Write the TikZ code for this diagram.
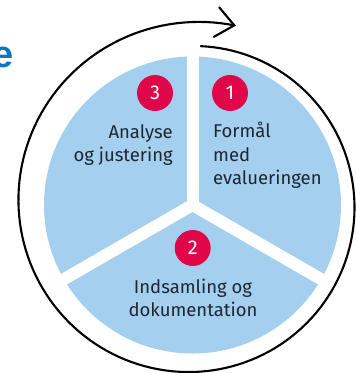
\documentclass[tikz,border=0pt]{standalone}
\usepackage{fontspec}
\setmainfont{Fira Sans}
\newfontfamily\titlefont{Liberation Sans}
\usetikzlibrary{arrows.meta}
\definecolor{pieblue}{HTML}{A5CFEE}
\definecolor{numred}{HTML}{E0064A}
\definecolor{txt}{HTML}{1C2733}
\definecolor{titleblue}{HTML}{0A75C2}
\tikzset{
  numc/.style={circle, fill=numred, minimum size=36pt, inner sep=0pt, text=white,
    font=\fontsize{20}{20}\selectfont},
  lbl/.style={inner sep=0pt, text=txt, font=\fontsize{18.5}{23.5}\selectfont},
  gap/.style={white, line width=12pt},
  ring/.style={black, line width=2.1pt, line cap=round,
    -{Straight Barb[length=18pt, width=30pt, line cap=round]}}
}
\begin{document}
\begin{tikzpicture}[x=1pt, y=-1pt]
\useasboundingbox (0,0) rectangle (356,373);
\coordinate (C) at (192.5,205);
% pie
\fill[pieblue] (C) circle[radius=148.5pt];
\draw[gap] (C) -- ++(0,-160);
\draw[gap] (C) -- ++(140,80.8);
\draw[gap] (C) -- ++(-140,80.8);
% spiral arrow
\draw[ring] plot[domain=3:373.6, samples=160, variable=\p]
  ({192.5 + (159 + 8*(\p/360) + 16*(\p/360)*(\p/360))*sin(\p)},
   {205 - (159 + 8*(\p/360) + 16*(\p/360)*(\p/360))*cos(\p)});
% numbers
\node[numc] (n3) at (155,93) {3};
\node[numc] (n1) at (230,93) {1};
\node[numc] (n2) at (192.7,248) {2};
% labels
\node[lbl, anchor=north east, align=right] (t3) at (173,124) {Analyse\\og justering};
\node[lbl, anchor=north west, align=left] (t1) at (213,122) {Formål\\med\\evalueringen};
\node[lbl, anchor=north, align=center] (t2) at (193,278.5) {Indsamling og\\dokumentation};
% cut title letter
\node[inner sep=0pt, anchor=base east, text=titleblue,
  font=\titlefont\bfseries\fontsize{38}{38}\selectfont] (ttl) at (13.5,67.5) {e};
\end{tikzpicture}
\end{document}
